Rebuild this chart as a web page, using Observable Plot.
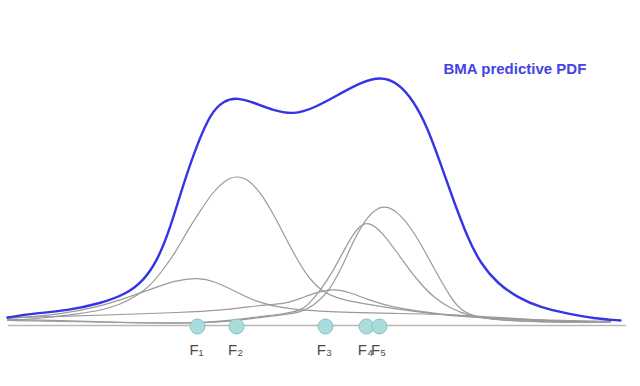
<!DOCTYPE html>
<html>
<head>
<meta charset="utf-8">
<script src="https://cdn.jsdelivr.net/npm/d3@7"></script>
<script src="https://cdn.jsdelivr.net/npm/@observablehq/plot@0.6"></script>
<style>
  html, body { margin: 0; padding: 0; background: #fff; }
  #chart { width: 640px; height: 386px; }
</style>
</head>
<body>
<div id="chart"></div>
<script>
// BMA predictive PDF (blue)
const blueX = [7,33,67,100,127,143,157,170,183,197,210,223,237,253,273,293,313,340,360,380,397,413,427,440,453,467,480,497,517,540,567,593,620];
const blueY = [8,12,15,22,32,45,65,98,142,182,212,225,228,223,215,211,217,232,243,249,243,225,198,162,125,88,62,42,28,18,12,7,5];

// Component (member) PDFs, gray
const g1X = [7,60,100,130,155,175,197,215,235,255,275,300,350,400,450,500,560,610];
const g1Y = [7,11,19,29,38,45,48,44,34,24,19,15,13,12,11,8,4,3];

const g2X = [7,40,80,100,120,137,150,162,175,187,200,212,224,236,248,260,272,285,297,310,322,335,350,380,420,470,530,610];
const g2Y = [5,7,12,15,21,30,40,55,73,95,115,133,145,150,146,133,113,88,65,45,34,28,24,19,13,8,5,3];

const g3X = [7,60,120,180,220,250,270,285,300,315,333,350,367,383,400,433,467,520,610];
const g3Y = [8,9,11,13,15,19,21,22,27,33,37,33,26,21,17,12,9,6,4];

const g4X = [7,60,120,190,230,260,285,300,307,320,333,347,357,368,383,400,417,433,450,467,500,560,610];
const g4Y = [6,5,3,2,5,9,12,15,20,35,55,82,98,105,92,68,45,28,17,10,5,3,3];

const g5X = [7,60,120,190,230,260,285,300,313,327,340,353,367,383,400,417,433,450,460,477,500,560,610];
const g5Y = [5,4,3,2,4,8,11,13,20,32,55,85,110,122,112,88,58,28,15,8,5,3,3];

// Forecasts F1..F5
const forecastLabels = ["F\u2081","F\u2082","F\u2083","F\u2084","F\u2085"];
const forecastX = [197,236,325,366,379];

const baselineX = [8,625];
const titleText = "BMA predictive PDF";

// build tables
const toRows = (xs, ys, s) => xs.map((x, i) => ({x, y: ys[i], s}));
const grayRows = [
  ...toRows(g1X, g1Y, "F1"),
  ...toRows(g2X, g2Y, "F2"),
  ...toRows(g3X, g3Y, "F3"),
  ...toRows(g4X, g4Y, "F4"),
  ...toRows(g5X, g5Y, "F5")
];
const blueRows = toRows(blueX, blueY, "BMA");
const forecasts = forecastX.map((x, i) => ({x, label: forecastLabels[i]}));

const chart = Plot.plot({
  width: 640,
  height: 386,
  margin: 0,
  style: {background: "#fff", fontFamily: "Liberation Sans, Arial, sans-serif"},
  x: {domain: [0, 640], axis: null},
  y: {domain: [-61, 325], axis: null},
  marks: [
    Plot.line(baselineX.map(x => ({x, y: 0})), {x: "x", y: "y", stroke: "#b8b8b8", strokeWidth: 1.6}),
    Plot.line(grayRows, {x: "x", y: "y", z: "s", stroke: "#9a9a9a", strokeWidth: 1.2, curve: "basis"}),
    Plot.line(blueRows, {x: "x", y: "y", stroke: "#3535e6", strokeWidth: 2.4, curve: "basis"}),
    Plot.dot(forecasts, {x: "x", y: () => -1, r: 7.5, fill: "#aadcdc", stroke: "#86c2c2", strokeWidth: 1}),
    Plot.text(forecasts, {x: "x", y: () => -25, text: "label", dx: -1, fill: "#4a4a4a", fontSize: 15, textAnchor: "middle"}),
    Plot.text([titleText], {x: () => 443, y: () => 256, text: d => d, textAnchor: "start", fill: "#4444e4", fontSize: 15, fontWeight: 600})
  ]
});
document.getElementById("chart").appendChild(chart);
</script>
</body>
</html>
